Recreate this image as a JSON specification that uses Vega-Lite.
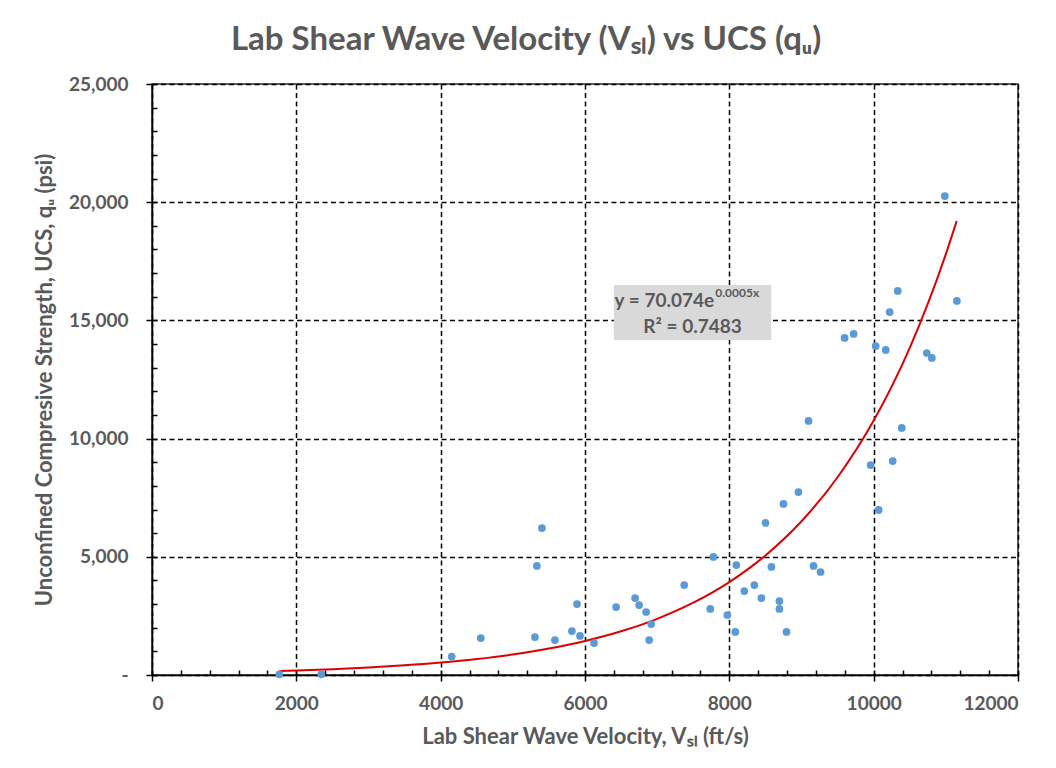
{
  "$schema": "https://vega.github.io/schema/vega-lite/v6.json",
  "width": 866,
  "height": 591,
  "autosize": {"type": "none"},
  "padding": {"left": 152, "top": 84, "right": 38, "bottom": 93},
  "background": "white",
  "title": {
    "text": "Lab Shear Wave Velocity (Vₛₗ) vs UCS (qᵤ)",
    "font": "Lato",
    "fontSize": 33,
    "fontWeight": "bold",
    "color": "#595959",
    "frame": "bounds",
    "anchor": "middle",
    "offset": 18
  },
  "config": {
    "view": {"stroke": "#262626", "strokeWidth": 1.5},
    "axis": {
      "labelFont": "Lato",
      "labelFontWeight": "bold",
      "labelFontSize": 19,
      "labelColor": "#595959",
      "titleFont": "Lato",
      "titleFontWeight": "bold",
      "titleFontSize": 22,
      "titleColor": "#595959",
      "tickColor": "#000000",
      "tickWidth": 1.5,
      "domainColor": "#000000",
      "domainWidth": 1.5,
      "gridColor": "#000000",
      "gridWidth": 1.5,
      "gridDash": [5, 3.5],
      "gridOpacity": 1
    }
  },
  "datasets": {
    "pts": [
      {"v": 1764, "q": 30}, {"v": 2347, "q": 30}, {"v": 4153, "q": 780}, {"v": 4556, "q": 1565},
      {"v": 5306, "q": 1607}, {"v": 5333, "q": 4611}, {"v": 5403, "q": 6218}, {"v": 5583, "q": 1480},
      {"v": 5819, "q": 1860}, {"v": 5889, "q": 3003}, {"v": 5931, "q": 1650}, {"v": 6125, "q": 1350},
      {"v": 6431, "q": 2876}, {"v": 6694, "q": 3257}, {"v": 6750, "q": 2960}, {"v": 6847, "q": 2665},
      {"v": 6889, "q": 1480}, {"v": 6917, "q": 2157}, {"v": 7375, "q": 3807}, {"v": 7736, "q": 2792},
      {"v": 7778, "q": 4992}, {"v": 7972, "q": 2538}, {"v": 8097, "q": 4653}, {"v": 8083, "q": 1820},
      {"v": 8208, "q": 3553}, {"v": 8347, "q": 3807}, {"v": 8444, "q": 3257}, {"v": 8500, "q": 6430},
      {"v": 8583, "q": 4570}, {"v": 8694, "q": 3130}, {"v": 8694, "q": 2792}, {"v": 8792, "q": 1820},
      {"v": 8750, "q": 7234}, {"v": 8958, "q": 7741}, {"v": 9097, "q": 10745}, {"v": 9167, "q": 4611},
      {"v": 9264, "q": 4357}, {"v": 9597, "q": 14256}, {"v": 9722, "q": 14425}, {"v": 9958, "q": 8883},
      {"v": 10028, "q": 13917}, {"v": 10069, "q": 6980}, {"v": 10167, "q": 13748}, {"v": 10222, "q": 15355},
      {"v": 10264, "q": 9052}, {"v": 10333, "q": 16244}, {"v": 10389, "q": 10449}, {"v": 10736, "q": 13621},
      {"v": 10806, "q": 13410}, {"v": 10986, "q": 20262}, {"v": 11153, "q": 15821}
    ],
    "trend": [
      {"v": 1764, "q": 170}, {"v": 2000, "q": 192}, {"v": 2500, "q": 247}, {"v": 3000, "q": 317},
      {"v": 3500, "q": 408}, {"v": 4000, "q": 525}, {"v": 4500, "q": 675}, {"v": 5000, "q": 868},
      {"v": 5500, "q": 1117}, {"v": 6000, "q": 1437}, {"v": 6500, "q": 1848}, {"v": 7000, "q": 2376},
      {"v": 7500, "q": 3057}, {"v": 8000, "q": 3931}, {"v": 8500, "q": 5057}, {"v": 9000, "q": 6504},
      {"v": 9500, "q": 8366}, {"v": 10000, "q": 10761}, {"v": 10500, "q": 13842}, {"v": 11000, "q": 17804},
      {"v": 11150, "q": 19202}
    ],
    "box": [{"v1": 6400, "v2": 8580, "q1": 14170, "q2": 16500}],
    "eq1": [{"v": 7790, "q": 15567, "t": "y = 70.074e"}],
    "eq2": [{"v": 7805, "q": 16000, "t": "0.0005x"}],
    "eq3": [{"v": 7490, "q": 14470, "t": "R² = 0.7483"}]
  },
  "resolve": {"axis": {"x": "independent", "y": "independent"}},
  "layer": [
    {
      "data": {"name": "pts"},
      "mark": {"type": "point", "opacity": 0},
      "encoding": {
        "x": {
          "field": "v", "type": "quantitative",
          "scale": {"domain": [0, 12000], "nice": false, "zero": false},
          "axis": {
            "orient": "bottom", "values": [0,400,800,1200,1600,2000,2400,2800,3200,3600,4000,4400,4800,5200,5600,6000,6400,6800,7200,7600,8000,8400,8800,9200,9600,10000,10400,10800,11200,11600,12000],
            "tickSize": -5, "labels": false, "domain": false, "grid": false, "title": null
          }
        },
        "y": {
          "field": "q", "type": "quantitative",
          "scale": {"domain": [0, 25000], "nice": false, "zero": false},
          "axis": {
            "orient": "left", "values": [0,1000,2000,3000,4000,5000,6000,7000,8000,9000,10000,11000,12000,13000,14000,15000,16000,17000,18000,19000,20000,21000,22000,23000,24000,25000],
            "tickSize": -5, "labels": false, "domain": false, "grid": false, "title": null
          }
        }
      }
    },
    {
      "data": {"name": "pts"},
      "mark": {"type": "point", "opacity": 0},
      "encoding": {
        "x": {
          "field": "v", "type": "quantitative",
          "axis": {
            "orient": "bottom", "values": [0,2000,4000,6000,8000,10000,12000],
            "format": "d",
            "tickSize": 6, "labelPadding": 13, "grid": true,
            "title": "Lab Shear Wave Velocity, Vₛₗ (ft/s)", "titlePadding": 13
          }
        },
        "y": {
          "field": "q", "type": "quantitative",
          "axis": {
            "orient": "left", "values": [0,5000,10000,15000,20000,25000],
            "tickSize": 6, "labelPadding": 18, "grid": true,
            "labelExpr": "datum.value == 0 ? '-' : format(datum.value, ',')",
            "title": "Unconfined Compresive Strength, UCS, qᵤ (psi)", "titlePadding": 12
          }
        }
      }
    },
    {
      "data": {"name": "box"},
      "mark": {"type": "rect", "color": "#D9D9D9"},
      "encoding": {
        "x": {"field": "v1", "type": "quantitative", "axis": null},
        "x2": {"field": "v2"},
        "y": {"field": "q1", "type": "quantitative", "axis": null},
        "y2": {"field": "q2"}
      }
    },
    {
      "data": {"name": "trend"},
      "mark": {"type": "line", "color": "#DC0000", "strokeWidth": 2, "interpolate": "monotone"},
      "encoding": {
        "x": {"field": "v", "type": "quantitative", "axis": null},
        "y": {"field": "q", "type": "quantitative", "axis": null}
      }
    },
    {
      "data": {"name": "pts"},
      "mark": {"type": "circle", "color": "#5B9BD5", "size": 60, "opacity": 1},
      "encoding": {
        "x": {"field": "v", "type": "quantitative", "axis": null},
        "y": {"field": "q", "type": "quantitative", "axis": null}
      }
    },
    {
      "data": {"name": "eq1"},
      "mark": {"type": "text", "align": "right", "baseline": "alphabetic", "font": "Lato", "fontWeight": "bold", "fontSize": 19, "color": "#595959"},
      "encoding": {
        "x": {"field": "v", "type": "quantitative", "axis": null},
        "y": {"field": "q", "type": "quantitative", "axis": null},
        "text": {"field": "t"}
      }
    },
    {
      "data": {"name": "eq2"},
      "mark": {"type": "text", "align": "left", "baseline": "alphabetic", "font": "Lato", "fontWeight": "bold", "fontSize": 12, "color": "#595959"},
      "encoding": {
        "x": {"field": "v", "type": "quantitative", "axis": null},
        "y": {"field": "q", "type": "quantitative", "axis": null},
        "text": {"field": "t"}
      }
    },
    {
      "data": {"name": "eq3"},
      "mark": {"type": "text", "align": "center", "baseline": "alphabetic", "font": "Lato", "fontWeight": "bold", "fontSize": 19, "color": "#595959"},
      "encoding": {
        "x": {"field": "v", "type": "quantitative", "axis": null},
        "y": {"field": "q", "type": "quantitative", "axis": null},
        "text": {"field": "t"}
      }
    }
  ]
}
